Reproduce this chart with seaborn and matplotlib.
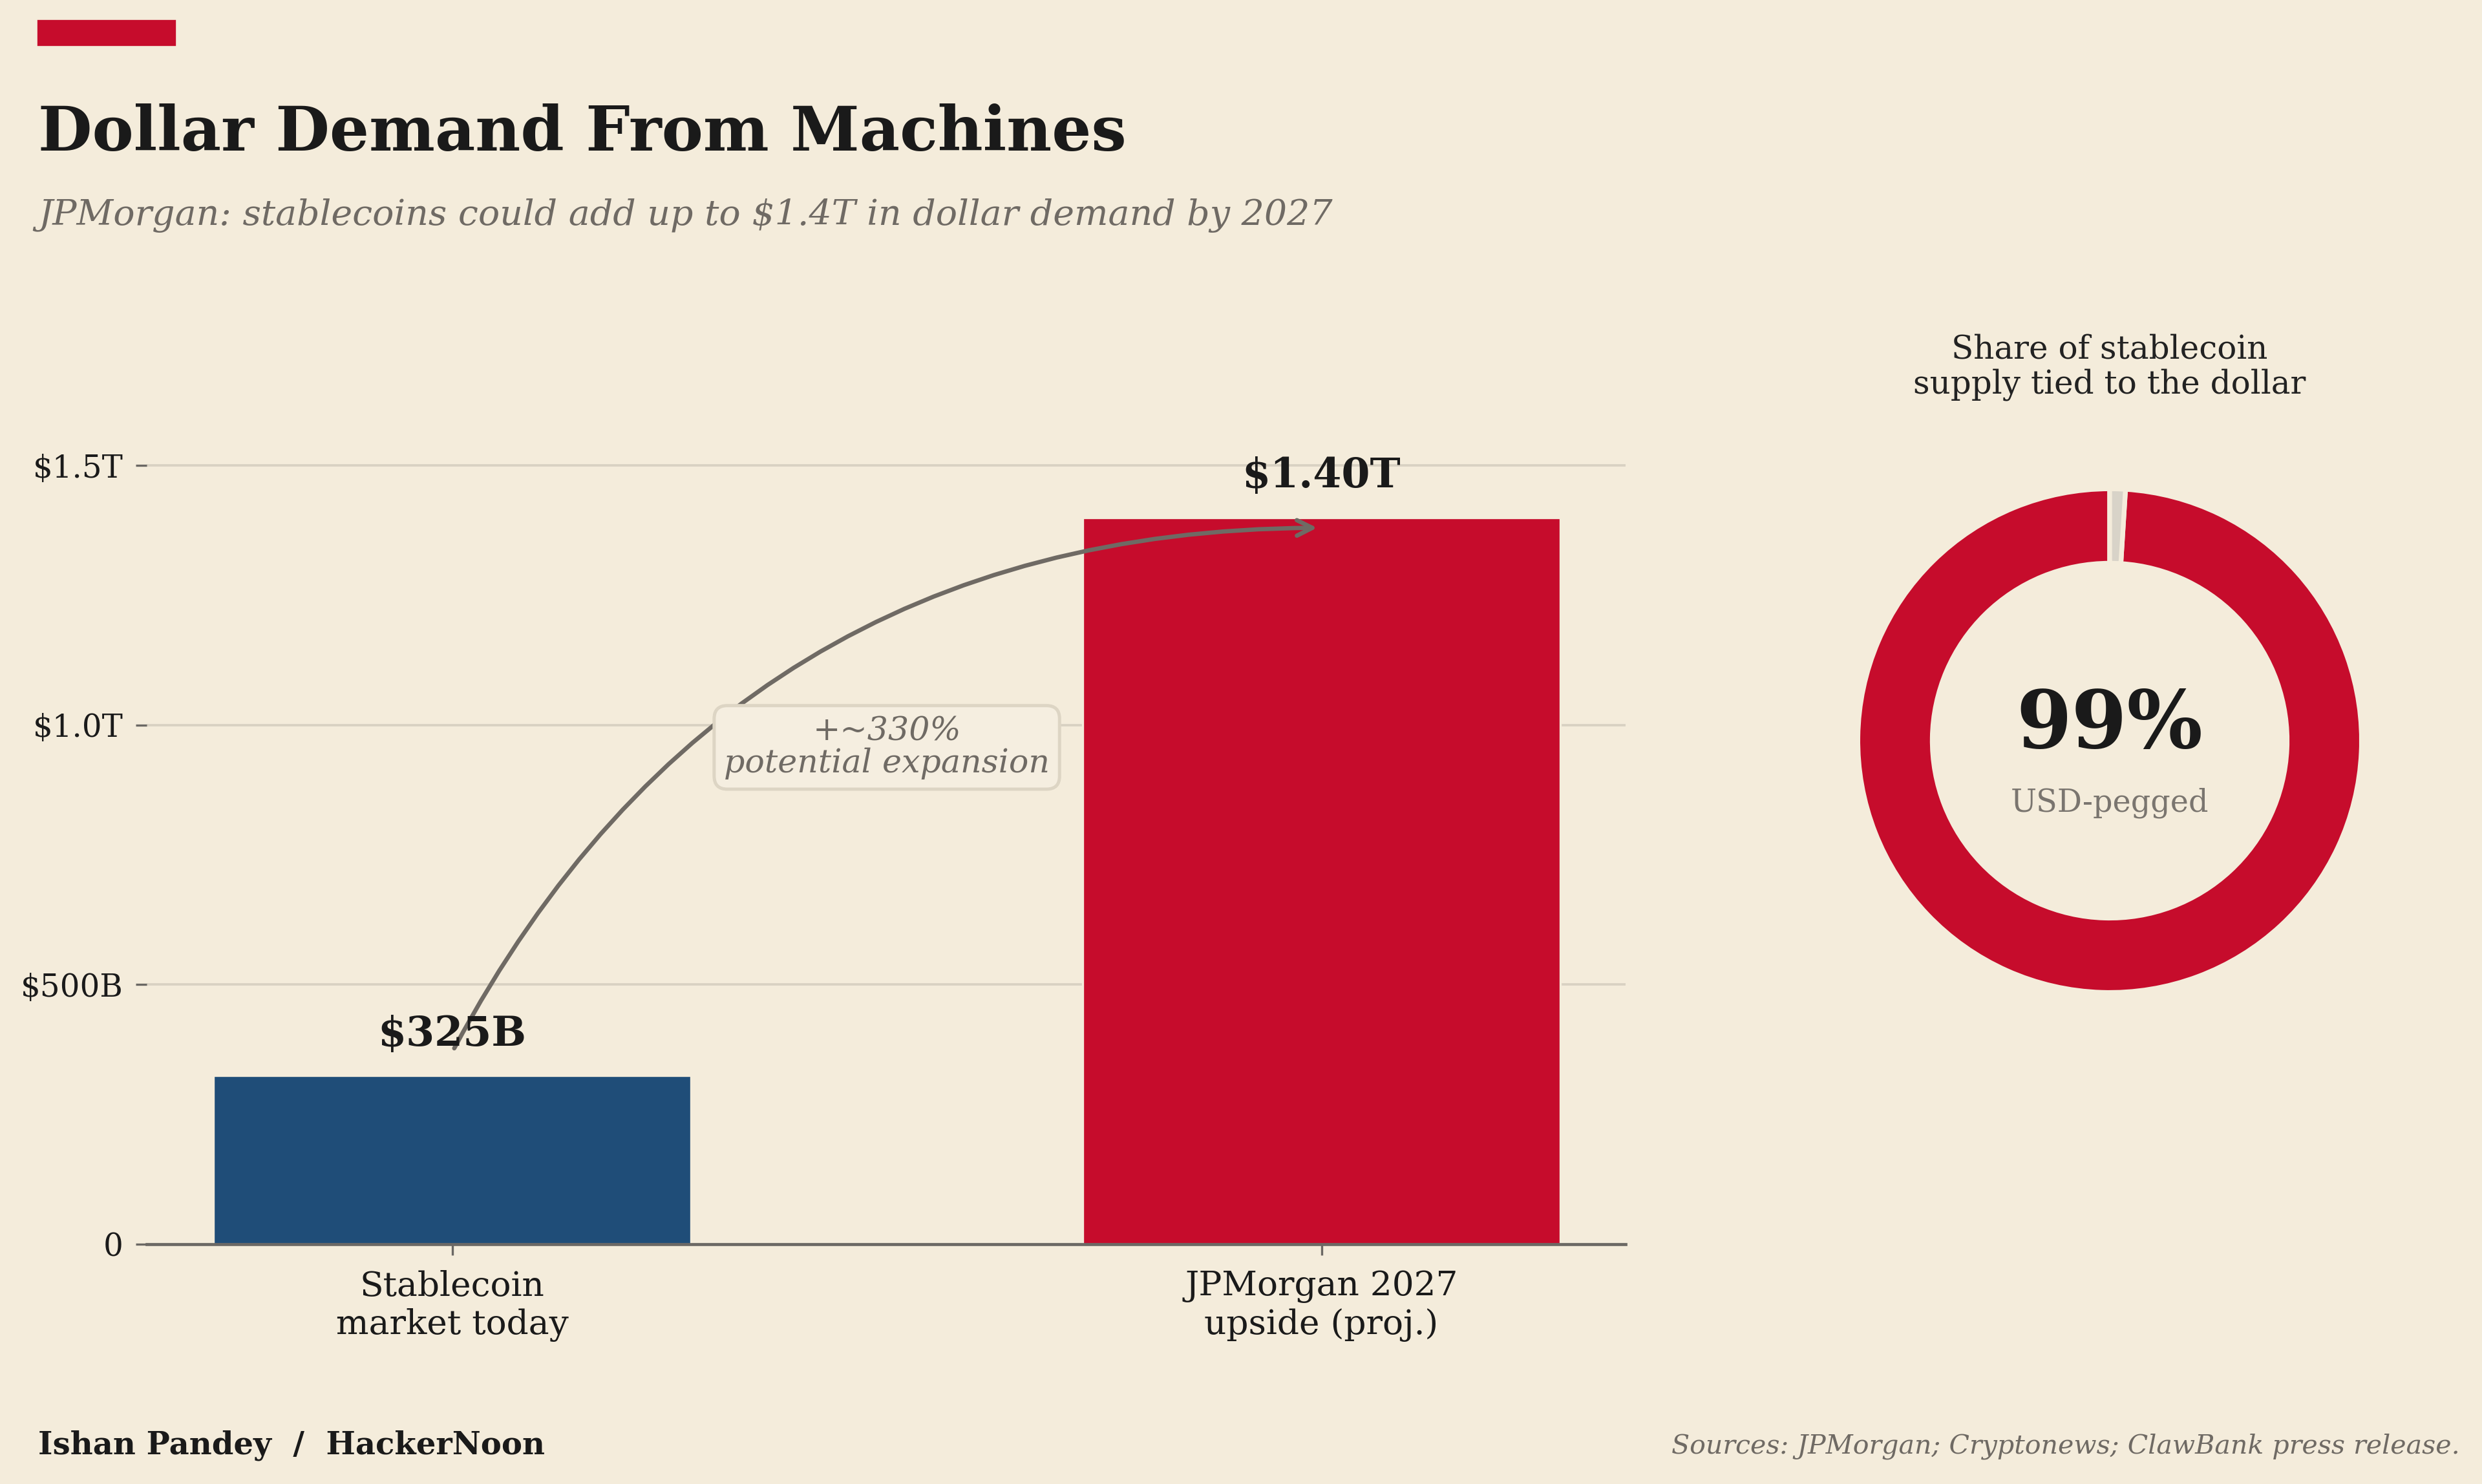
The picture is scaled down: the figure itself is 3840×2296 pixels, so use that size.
import numpy as np
import pandas as pd
import matplotlib.pyplot as plt
import seaborn as sns
from matplotlib.patches import Rectangle

# data
categories = ["Stablecoin\nmarket today", "JPMorgan 2027\nupside (proj.)"]
values_bn = [325, 1400]          # $ billions
y_ticks = [0, 500, 1000, 1500]
y_tick_labels = ["0", "$500B", "$1.0T", "$1.5T"]
donut_labels = ["USD-pegged", "Other"]
donut_shares = [99, 1]

BG = "#F4ECDB"
RED = "#C60C2C"
BLUE = "#1F4D78"
GRAY_TXT = "#6f6a64"
DARK = "#1a1a1a"

sns.set_theme(style="white")
plt.rcParams["font.family"] = ["DejaVu Serif"]

fig = plt.figure(figsize=(16, 9.5667), dpi=240, facecolor=BG)

# ---- bar chart ----
ax = fig.add_axes([0.0591, 0.1616, 0.5959, 0.5597], facecolor=BG)
df = pd.DataFrame({"label": categories, "value": values_bn})
sns.barplot(data=df, x="label", y="value", hue="label", palette=[BLUE, RED],
            saturation=1, width=0.55, legend=False, ax=ax,
            edgecolor=BG, linewidth=1, zorder=3)

ax.set_xlim(-0.3515, 1.35)
ax.set_ylim(0, 1600)
ax.set_yticks(y_ticks)
ax.set_yticklabels(y_tick_labels)
ax.set_xlabel("")
ax.set_ylabel("")
for s in ["top", "right", "left"]:
    ax.spines[s].set_visible(False)
ax.spines["bottom"].set_color("#6b6864")
ax.spines["bottom"].set_linewidth(1.4)
ax.spines["bottom"].set_zorder(4)
ax.grid(axis="y", color="#d8d1c2", linewidth=1.1, zorder=0)
ax.tick_params(axis="y", labelsize=14.5, colors="#6b6864", labelcolor=DARK,
               length=5, width=1, pad=6, left=True)
ax.tick_params(axis="x", labelsize=16, colors="#6b6864", labelcolor=DARK,
               length=5, width=1, pad=7, bottom=True)

for i, v in enumerate(values_bn):
    lbl = f"${v}B" if v < 1000 else f"${v / 1000:.2f}T"
    ax.annotate(lbl, xy=(i, v), xytext=(0, 10), textcoords="offset points",
                ha="center", va="bottom", fontsize=19, fontweight="bold",
                color=DARK, zorder=6)

# growth arrow
growth = (values_bn[1] / values_bn[0] - 1) * 100
ax.annotate("", xy=(1, values_bn[1] - 20), xytext=(0, values_bn[0] + 45),
            arrowprops=dict(arrowstyle="->,head_length=0.6,head_width=0.3",
                            color=GRAY_TXT, lw=2,
                            connectionstyle="arc3,rad=-0.3"), zorder=5)
ax.text(0.5, 957, f"+~{round(growth, -1):.0f}%\npotential expansion",
        ha="center", va="center", fontsize=15.2, style="italic",
        color=GRAY_TXT, linespacing=1.0, zorder=7,
        bbox=dict(boxstyle="round,pad=0.3,rounding_size=0.4",
                  facecolor="#F5EEE0", edgecolor="#ddd5c4", lw=1.5))

# ---- donut ----
ax2 = fig.add_axes([0.725, 0.2919, 0.25, 0.418], facecolor=BG)
ax2.pie(donut_shares, colors=[RED, "#d8d3c8"], startangle=90, radius=1.015,
        wedgeprops=dict(width=0.30, edgecolor=BG, linewidth=2.2))
ax2.set_xlim(-1.25, 1.25)
ax2.set_ylim(-1.25, 1.25)
ax2.set_aspect("equal")
ax2.text(0, 0.06, f"{donut_shares[0]}%", ha="center", va="center",
         fontsize=37, fontweight="bold", color=DARK)
ax2.text(0, -0.25, donut_labels[0], ha="center", va="center",
         fontsize=14.3, color="#7a756f")

fig.text(0.850, 0.7526, "Share of stablecoin\nsupply tied to the dollar",
         ha="center", va="center", fontsize=15, color="#222222",
         linespacing=1.12)

# ---- header / footer ----
fig.patches.append(Rectangle((0.0154, 0.970), 0.055, 0.0161,
                             transform=fig.transFigure, color=RED))
fig.text(0.0154, 0.8985, "Dollar Demand From Machines", ha="left",
         va="baseline", fontsize=28.9, fontweight="bold", color=DARK)
fig.text(0.0154, 0.8484,
         "JPMorgan: stablecoins could add up to $1.4T in dollar demand by 2027",
         ha="left", va="baseline", fontsize=16.6, style="italic", color=GRAY_TXT)
fig.text(0.0154, 0.026, "Ishan Pandey  /  HackerNoon", ha="left",
         va="center", fontsize=14.45, fontweight="bold", color=DARK)
fig.text(0.991, 0.0255,
         "Sources: JPMorgan; Cryptonews; ClawBank press release.",
         ha="right", va="center", fontsize=12.35, style="italic",
         color=GRAY_TXT)

fig.savefig("out.png", dpi=240, facecolor=BG)
